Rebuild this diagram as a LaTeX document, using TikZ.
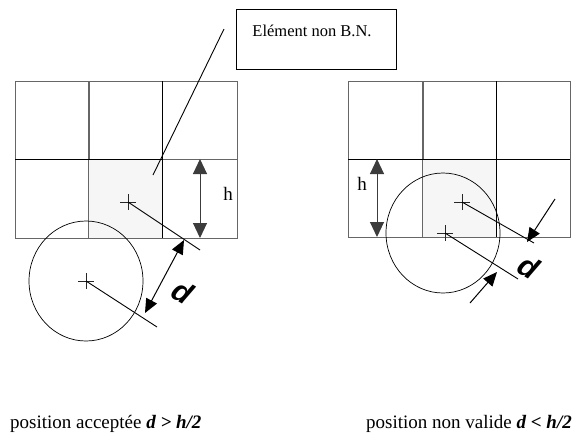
\documentclass[tikz,border=0pt]{standalone}
\usepackage{fontspec}
\setmainfont{Liberation Serif}
\newfontfamily\dfont{Liberation Sans}
\usetikzlibrary{arrows.meta}
\definecolor{gridgray}{HTML}{666666}
\definecolor{cellfill}{HTML}{F6F6F6}
\definecolor{harrow}{HTML}{3C3C3C}
\begin{document}
\begin{tikzpicture}[x=1pt,y=-1pt,
  gridline/.style={draw=gridgray,line width=0.9pt},
  darkline/.style={draw=black,line width=1pt},
  crossmark/.style={draw=black!85,line width=0.8pt},
  leader/.style={draw=black,line width=0.9pt},
  harr/.style={draw=harrow,line width=1pt,{Triangle[length=15pt,width=14pt]}-{Triangle[length=15pt,width=14pt]},color=harrow},
  darr/.style={draw=black,line width=1pt,-{Triangle[length=14pt,width=12pt]}},
  hlab/.style={font=\fontsize{19}{19}\selectfont,inner sep=0pt},
  dlab/.style={font=\dfont\bfseries\itshape\fontsize{30}{30}\selectfont,inner sep=0pt,rotate=-30},
  caption/.style={font=\fontsize{19}{22}\selectfont,inner sep=0pt},
  circ/.style={draw=black,line width=0.7pt}]
\useasboundingbox (0,0) rectangle (573,437);

% ---------- left panel ----------
\fill[cellfill] (88,159) rectangle (162,238);
\draw[gridline] (15,81) rectangle (237,238);
\draw[gridline] (88,81) -- (88,238);
\draw[gridline] (89.5,81) -- (89.5,159);
\draw[gridline] (162,159) -- (237,159);
\draw[darkline] (162,81) -- (162,238);
\draw[darkline] (15,159) -- (162,159);

\coordinate (c1) at (128,202);
\coordinate (c1e) at (200,250);
\draw[crossmark] (120,202) -- (136,202) (128,194) -- (128,210);
\draw[leader] (c1) -- (c1e);

\draw[circ] (86,281) ellipse [x radius=57, y radius=60];
\coordinate (c2) at (86,281);
\coordinate (c2e) at (157,327);
\draw[crossmark] (78,281) -- (94,281) (86,273) -- (86,289);
\draw[leader] (c2) -- (c2e);

\coordinate (da) at (184,240);
\coordinate (db) at (145,313);
\draw[line width=1pt,{Triangle[length=14pt,width=12pt]}-{Triangle[length=14pt,width=12pt]}] (da) -- (db);
\node[dlab] (dl) at (183,292) {d};

\coordinate (ha) at (200,159);
\coordinate (hb) at (200,238);
\draw[harr] (ha) -- (hb);
\node[hlab] (hl) at (228,194) {h};

% ---------- right panel ----------
\fill[cellfill] (422,159) rectangle (496,237);
\draw[gridline] (348,81) rectangle (570,237);
\draw[gridline] (422,81) -- (422,237);
\draw[gridline] (423.5,81) -- (423.5,159);
\draw[darkline] (496,81) -- (496,237);
\draw[darkline] (348,159) -- (570,159);

\draw[circ] (443,233) ellipse [x radius=57, y radius=60];

\coordinate (r1) at (462,202);
\coordinate (r1e) at (534,243);
\draw[crossmark] (454,202) -- (470,202) (462,194) -- (462,210);
\draw[leader] (r1) -- (r1e);

\coordinate (r2) at (445,233);
\coordinate (r2e) at (518,279);
\draw[crossmark] (437,233) -- (453,233) (445,225) -- (445,241);
\draw[leader] (r2) -- (r2e);

\coordinate (ra1) at (555,199);
\coordinate (ra2) at (527,242);
\draw[darr] (ra1) -- (ra2);
\coordinate (rb1) at (470,303);
\coordinate (rb2) at (497,272);
\draw[darr] (rb1) -- (rb2);
\node[dlab] (dr) at (529,267) {d};

\coordinate (rha) at (377,159);
\coordinate (rhb) at (377,237);
\draw[harr] (rha) -- (rhb);
\node[hlab] (rhl) at (362,184) {h};

% ---------- label box and leader ----------
\node[draw=black,line width=0.9pt,minimum width=160pt,minimum height=60pt,inner sep=0pt] (box) at (316,39) {};
\node[font=\fontsize{16.5}{18}\selectfont,inner sep=0pt] (boxtext) at (312,31) {Elément non B.N.};
\coordinate (ltop) at (224,29);
\coordinate (lbot) at (153,175);
\draw[leader] (ltop) -- (lbot);

% ---------- captions ----------
\node[caption,anchor=base west] (capl) at (10,428) {position acceptée \textbf{\textit{d > h/2}}};
\node[caption,anchor=base east] (capr) at (572,428) {position non valide \textbf{\textit{d < h/2}}};
\end{tikzpicture}
\end{document}
